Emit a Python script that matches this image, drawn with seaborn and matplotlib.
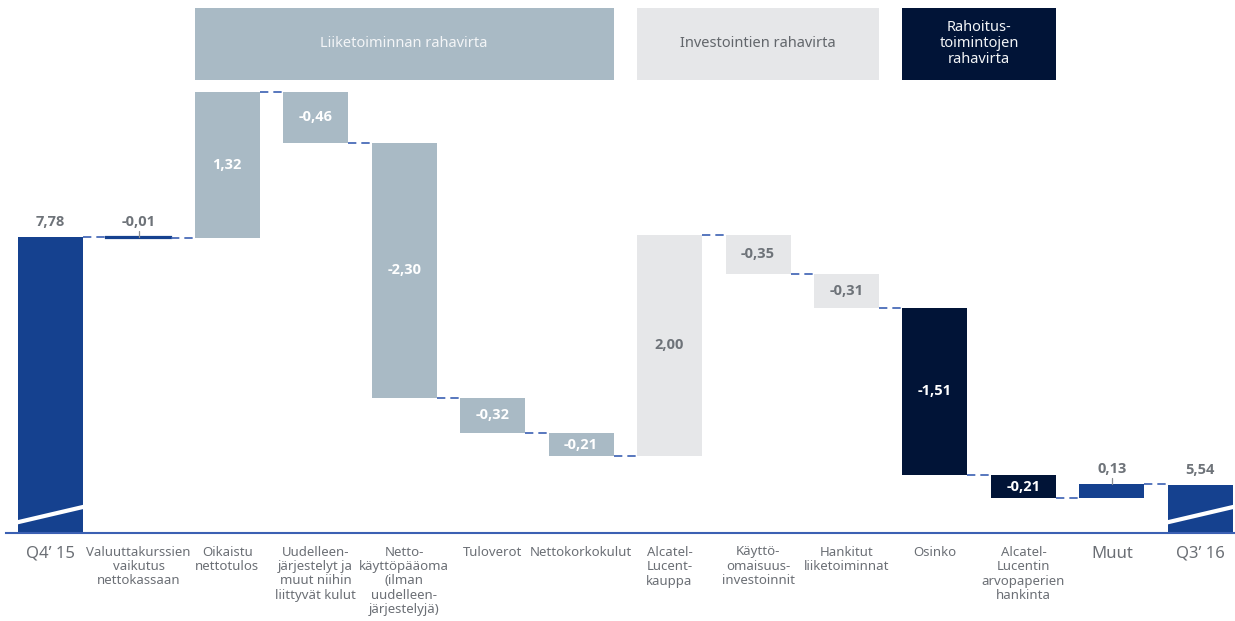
import numpy as np
import pandas as pd
import seaborn as sns
import matplotlib.pyplot as plt
from matplotlib.patches import Rectangle

# data (EUR bn, Finnish number format)
categories = [
    "Q4\u2019 15",
    "Valuuttakurssien\nvaikutus\nnettokassaan",
    "Oikaistu\nnettotulos",
    "Uudelleen-\njärjestelyt ja\nmuut niihin\nliittyvät kulut",
    "Netto-\nkäyttöpääoma\n(ilman\nuudelleen-\njärjestelyjä)",
    "Tuloverot",
    "Nettokorkokulut",
    "Alcatel-\nLucent-\nkauppa",
    "Käyttö-\nomaisuus-\ninvestoinnit",
    "Hankitut\nliiketoiminnat",
    "Osinko",
    "Alcatel-\nLucentin\narvopaperien\nhankinta",
    "Muut",
    "Q3\u2019 16",
]
values = [7.78, -0.01, 1.32, -0.46, -2.30, -0.32, -0.21, 2.00, -0.35, -0.31, -1.51, -0.21, 0.13, 5.54]
kinds = ["total", "muu", "liike", "liike", "liike", "liike", "liike",
         "inv", "inv", "inv", "rahoitus", "rahoitus", "muu", "total"]
group_titles = {
    "liike": "Liiketoiminnan rahavirta",
    "inv": "Investointien rahavirta",
    "rahoitus": "Rahoitus-\ntoimintojen\nrahavirta",
}

palette = {"total": "#15418f", "muu": "#15418f", "liike": "#a9bac5",
           "inv": "#e6e7e9", "rahoitus": "#011437"}
label_color = {"total": "#6e7379", "muu": "#6e7379", "liike": "white",
               "inv": "#6e7379", "rahoitus": "white"}
head_text = {"liike": "#f3f5f7", "inv": "#62666b", "rahoitus": "#f3f5f7"}
grey = "#6b6f75"
line_blue = "#3b60b3"

# running totals for the waterfall
starts, ends = [], []
level = 0.0
for v, k in zip(values, kinds):
    if k == "total":
        starts.append(0.0)
        level = v
    else:
        starts.append(level)
        level += v
    ends.append(level)
starts = np.array(starts)
ends = np.array(ends)
df = pd.DataFrame({
    "kategoria": categories,
    "alku": np.minimum(starts, ends),
    "korkeus": np.abs(ends - starts),
    "tyyppi": kinds,
})

sns.set_style("white")
plt.rcParams["font.family"] = ["Noto Sans", "DejaVu Sans"]
value_font = ["Open Sans", "DejaVu Sans"]

fig = plt.figure(figsize=(12.35, 6.21), dpi=100)
ax = fig.add_axes([6 / 1235, 88 / 621, 1228 / 1235, 533 / 621])
ax.set_facecolor("none")

bw = 0.735
sns.barplot(data=df, x="kategoria", y="korkeus", order=categories, ax=ax,
            width=bw, color="#15418f", bottom=df["alku"].values, linewidth=0)
for p, k in zip(ax.patches, kinds):
    p.set_facecolor(palette[k])
    p.set_edgecolor(palette[k])
    p.set_linewidth(0)
ax.patches[1].set_linewidth(1.6)

ylo, yhi = 5.106, 9.921
ax.set_xlim(-0.5, 13.38)
ax.set_ylim(ylo, yhi)

# dashed connectors between bars
for i in range(len(values) - 1):
    ax.plot([i + bw / 2, i + 1 - bw / 2], [ends[i], ends[i]], color=line_blue,
            lw=1.2, ls=(0, (5, 3)))

# axis break marks on the total bars
for i, k in enumerate(kinds):
    if k == "total":
        ax.plot([i - 0.46, i + 0.45], [ylo + 0.08, ylo + 0.25], color="white",
                lw=3, solid_capstyle="butt", clip_on=False, zorder=5)

# value labels
for i, (v, k) in enumerate(zip(values, kinds)):
    txt = f"{v:.2f}".replace(".", ",")
    top = max(starts[i], ends[i])
    h = abs(ends[i] - starts[i])
    if k in ("total", "muu"):
        if k == "muu":
            ax.plot([i, i], [top, top + 0.05], color="#8a8e93", lw=0.9)
        ax.annotate(txt, (i, top), xytext=(0, 6), textcoords="offset points",
                    ha="center", va="bottom", fontsize=10.5, fontweight="bold",
                    color=label_color[k], family=value_font)
    else:
        ax.text(i, top - h / 2, txt, ha="center", va="center", fontsize=10.5,
                fontweight="bold", color=label_color[k], family=value_font)

# group header boxes
for key, title in group_titles.items():
    idx = [i for i, k in enumerate(kinds) if k == key]
    x0 = min(idx) - bw / 2
    x1 = max(idx) + bw / 2
    ax.add_patch(Rectangle((x0, 9.2), x1 - x0, 0.65, facecolor=palette[key],
                           edgecolor="none", clip_on=False))
    ax.text((x0 + x1) / 2, 9.525, title, ha="center", va="center",
            fontsize=10.5, color=head_text[key], linespacing=1.1)

sns.despine(ax=ax, left=True, top=True, right=True)
ax.spines["bottom"].set_color(line_blue)
ax.spines["bottom"].set_linewidth(1.5)
ax.set_yticks([])
ax.set_xlabel("")
ax.set_ylabel("")
ax.tick_params(axis="x", length=0, pad=9)
ax.set_xticks(range(len(categories)))
ax.set_xticklabels(categories, fontsize=9.5, color=grey, linespacing=1.15, va="top")
for i, t in enumerate(ax.get_xticklabels()):
    if i in (0, 12, 13):
        t.set_fontsize(12)

fig.savefig("out.png", dpi=100)
plt.close(fig)
